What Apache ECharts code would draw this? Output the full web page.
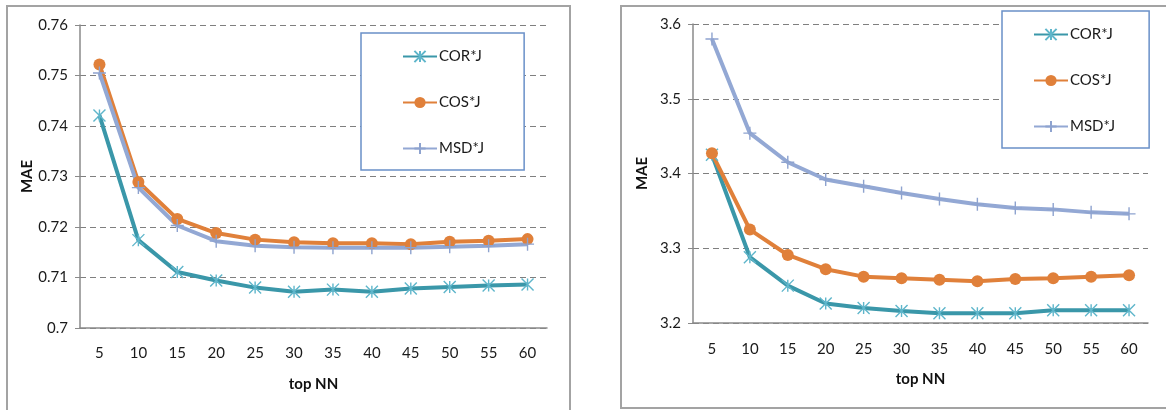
<!DOCTYPE html>
<html>
<head>
<meta charset="utf-8">
<script src="https://cdn.jsdelivr.net/npm/echarts@6/dist/echarts.min.js"></script>
<style>
  html, body { margin: 0; padding: 0; background: #fff; }
  #chart { width: 1166px; height: 410px; }
</style>
</head>
<body>
<div id="chart"></div>
<script>
  const categories = ['5', '10', '15', '20', '25', '30', '35', '40', '45', '50', '55', '60'];
  const seriesNames = ['COR*J', 'COS*J', 'MSD*J'];

  // left panel (MAE around 0.7)
  const leftCor = [0.7421, 0.7174, 0.7111, 0.7094, 0.7080, 0.7072, 0.7076, 0.7072, 0.7078, 0.7081, 0.7084, 0.7086];
  const leftCos = [0.7522, 0.7289, 0.7216, 0.7188, 0.7175, 0.7170, 0.7168, 0.7168, 0.7166, 0.7171, 0.7173, 0.7176];
  const leftMsd = [0.7505, 0.7278, 0.7203, 0.7172, 0.7163, 0.7160, 0.7159, 0.7159, 0.7159, 0.7161, 0.7163, 0.7166];

  // right panel (MAE around 3.3)
  const rightCor = [3.425, 3.288, 3.250, 3.226, 3.220, 3.216, 3.213, 3.213, 3.213, 3.217, 3.217, 3.217];
  const rightCos = [3.427, 3.325, 3.291, 3.272, 3.262, 3.260, 3.258, 3.256, 3.259, 3.260, 3.262, 3.264];
  const rightMsd = [3.580, 3.454, 3.415, 3.392, 3.383, 3.374, 3.366, 3.359, 3.354, 3.352, 3.348, 3.346];

  const STAR = 'path://M0,0L10,10M10,0L0,10M5,0L5,10';
  const PLUS = 'path://M5,0L5,10M0,5L10,5';
  const FONT = 'Lato, "Liberation Sans", sans-serif';

  const styles = [
    {symbol: STAR, symbolSize: 12, line: '#3a97a9', mark: '#5fb6cb', borderWidth: 1.4},
    {symbol: 'circle', symbolSize: 12, line: '#e0803a', mark: '#e0803a', borderWidth: 0},
    {symbol: PLUS, symbolSize: 13, line: '#93a8d4', mark: '#8ea3cf', borderWidth: 1.4}
  ];

  function makeSeries(values, idx) {
    return values.map((data, i) => ({
      name: seriesNames[i],
      type: 'line',
      xAxisIndex: idx,
      yAxisIndex: idx,
      data: data,
      symbol: styles[i].symbol,
      symbolSize: styles[i].symbolSize,
      showAllSymbol: true,
      lineStyle: {color: styles[i].line, width: 4},
      itemStyle: {
        color: styles[i].symbol === 'circle' ? styles[i].mark : styles[i].line,
        borderColor: styles[i].mark,
        borderWidth: styles[i].borderWidth,
        opacity: 1
      },
      emphasis: {disabled: true},
      animation: false
    }));
  }

  function xAxis(idx) {
    return {
      type: 'category',
      gridIndex: idx,
      data: categories,
      boundaryGap: true,
      name: 'top NN',
      nameLocation: 'middle',
      nameGap: 49,
      nameTextStyle: {fontFamily: FONT, fontWeight: 'bold', fontSize: 15, color: '#111'},
      axisLine: {lineStyle: {color: '#8a8a8a', width: 1.5}},
      axisTick: {show: false},
      axisLabel: {fontFamily: FONT, fontSize: 15, color: '#1a1a1a', margin: idx === 0 ? 18 : 19}
    };
  }

  function yAxis(idx, min, max, interval) {
    return {
      type: 'value',
      gridIndex: idx,
      min: min,
      max: max,
      interval: interval,
      name: 'MAE',
      nameLocation: 'middle',
      nameGap: idx === 0 ? 43 : 43,
      nameRotate: 90,
      nameTextStyle: {fontFamily: FONT, fontWeight: 'bold', fontSize: 15, color: '#111'},
      axisLine: {show: true, lineStyle: {color: '#8a8a8a', width: 1.5}},
      axisTick: {show: true, length: 5, lineStyle: {color: '#8a8a8a'}},
      axisLabel: {fontFamily: FONT, fontSize: 15, color: '#1a1a1a', margin: 12},
      splitLine: {lineStyle: {color: '#7f7f7f', type: [6, 4], width: 1}}
    };
  }

  function legend(idx, left, top, padding) {
    return {
      orient: 'vertical',
      left: left,
      top: top,
      padding: padding,
      itemWidth: 34,
      itemHeight: 14,
      itemGap: 31,
      backgroundColor: '#fff',
      borderColor: '#6a90c8',
      borderWidth: 1.5,
      data: seriesNames.map(n => ({name: n})),
      textStyle: {fontFamily: FONT, fontSize: 15, color: '#1a1a1a', padding: [0, 0, 0, -3]},
      selectedMode: false
    };
  }

  const chart = echarts.init(document.getElementById('chart'), null, {renderer: 'canvas'});
  chart.setOption({
    animation: false,
    backgroundColor: '#fff',
    graphic: [
      {type: 'rect', shape: {x: 7, y: 6, width: 563, height: 420}, style: {fill: 'none', stroke: '#a3a3a3', lineWidth: 2}, z: -10},
      {type: 'rect', shape: {x: 621, y: 6, width: 560, height: 402}, style: {fill: 'none', stroke: '#a3a3a3', lineWidth: 2}, z: -10}
    ],
    grid: [
      {left: 80, top: 25, width: 467, height: 303},
      {left: 693, top: 24, width: 455, height: 299}
    ],
    xAxis: [xAxis(0), xAxis(1)],
    yAxis: [yAxis(0, 0.7, 0.76, 0.01), yAxis(1, 3.2, 3.6, 0.1)],
    legend: [
      legend(0, 361, 33, [16, 40, 14, 41]),
      legend(1, 1002, 11, [16, 34, 14, 31])
    ],
    series: [
      ...makeSeries([leftCor, leftCos, leftMsd], 0),
      ...makeSeries([rightCor, rightCos, rightMsd], 1)
    ]
  });
</script>
</body>
</html>
